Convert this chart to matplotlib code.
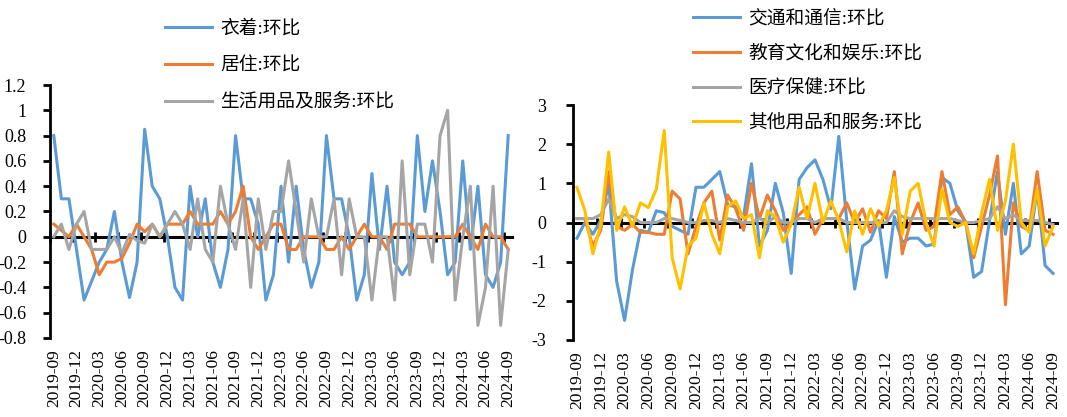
import numpy as np
import matplotlib
matplotlib.use('Agg')
import matplotlib.pyplot as plt

plt.rcParams['font.family'] = ['Liberation Serif', 'Noto Sans CJK SC']

# monthly, 2019-09 .. 2024-09
tick_labels = ['2019-09', '2019-12', '2020-03', '2020-06', '2020-09', '2020-12',
               '2021-03', '2021-06', '2021-09', '2021-12', '2022-03', '2022-06',
               '2022-09', '2022-12', '2023-03', '2023-06', '2023-09', '2023-12',
               '2024-03', '2024-06', '2024-09']

# left panel
clothing = [0.8, 0.3, 0.3, -0.1, -0.5, -0.35, -0.2, -0.1, 0.2, -0.2, -0.48, -0.2,
            0.85, 0.4, 0.3, 0.0, -0.4, -0.5, 0.4, 0.0, 0.3, -0.2, -0.4, -0.1,
            0.8, 0.3, 0.3, 0.1, -0.5, -0.3, 0.4, -0.2, 0.4, -0.1, -0.4, -0.2,
            0.8, 0.3, 0.3, 0.0, -0.5, -0.3, 0.5, -0.1, 0.4, -0.2, -0.3, -0.2,
            0.8, 0.2, 0.6, 0.2, -0.3, -0.2, 0.6, -0.1, 0.4, -0.3, -0.4, -0.2, 0.8]
housing = [0.1, 0.05, 0.0, 0.1, 0.0, -0.1, -0.3, -0.2, -0.2, -0.17, -0.05, 0.1,
           0.04, 0.1, 0.0, 0.1, 0.1, 0.1, 0.2, 0.1, 0.1, 0.1, 0.2, 0.1,
           0.2, 0.4, 0.0, -0.1, 0.0, 0.1, 0.1, -0.1, -0.1, 0.0, 0.0, 0.0,
           -0.1, -0.1, 0.0, -0.1, 0.0, 0.1, 0.0, 0.0, -0.1, 0.1, 0.1, 0.1,
           0.0, 0.0, 0.0, 0.0, 0.0, 0.0, 0.1, 0.0, -0.1, 0.1, 0.0, 0.0, -0.1]
household = [0.0, 0.1, -0.1, 0.1, 0.2, -0.1, -0.1, -0.1, 0.0, -0.13, 0.02, -0.03,
             -0.05, 0.1, 0.0, 0.1, 0.2, 0.1, -0.1, 0.3, -0.1, -0.2, 0.4, 0.1,
             -0.1, 0.3, -0.4, 0.3, -0.1, 0.2, 0.2, 0.6, 0.2, -0.2, 0.3, 0.0,
             0.0, 0.3, -0.3, 0.3, 0.0, 0.0, -0.5, 0.0, 0.0, -0.5, 0.6, -0.3,
             0.1, 0.1, -0.2, 0.8, 1.0, -0.5, 0.0, 0.4, -0.7, -0.4, 0.4, -0.7, -0.1]

# right panel
transport = [-0.4, 0.0, -0.3, 0.05, 1.0, -1.5, -2.5, -1.2, -0.2, -0.25, 0.3, 0.25,
             -0.1, -0.2, -0.3, 0.9, 0.9, 1.1, 1.3, 0.45, 0.4, 0.15, 1.5, -0.6,
             -0.2, 1.0, 0.25, -1.3, 1.1, 1.4, 1.6, 1.1, 0.35, 2.2, 0.05, -1.7,
             -0.6, -0.45, 0.05, -1.4, 0.15, -0.5, -0.4, -0.4, -0.6, -0.55, 1.15, 1.0,
             0.3, 0.0, -1.4, -1.25, 0.05, 1.3, -0.3, 1.0, -0.8, -0.6, 0.85, -1.1, -1.3]
education = [0.1, 0.1, -0.6, -0.2, 1.3, -0.1, -0.2, -0.05, -0.25, -0.25, -0.3, -0.3,
             0.8, 0.6, -0.8, -0.1, 0.5, 0.8, -0.45, 0.7, 0.35, -0.2, 1.0, 0.1,
             0.7, 0.3, -0.2, 0.0, 0.2, 0.4, -0.3, 0.1, 0.1, 0.1, 0.5, 0.0,
             0.35, -0.25, 0.3, 0.1, 1.3, -0.8, 0.0, 0.5, -0.2, -0.1, 1.3, 0.2,
             0.4, 0.0, -0.9, -0.1, 0.7, 1.7, -2.1, 0.5, -0.1, -0.2, 1.3, -0.2, -0.3]
health = [0.1, 0.1, 0.1, 0.2, 0.6, 0.1, 0.2, 0.15, 0.0, 0.0, 0.0, 0.1,
          0.1, 0.05, 0.0, 0.0, 0.05, 0.05, 0.0, 0.1, 0.05, 0.0, 0.0, 0.1,
          0.0, 0.15, 0.0, 0.0, 0.1, 0.1, 0.0, 0.1, 0.1, 0.1, 0.0, 0.0,
          0.0, 0.0, 0.0, 0.0, 0.3, 0.15, 0.1, 0.1, 0.1, 0.1, 0.1, 0.1,
          0.05, 0.0, 0.0, 0.05, 0.1, 0.4, 0.1, 0.2, 0.05, 0.05, 0.05, 0.0, -0.05]
others = [0.9, 0.3, -0.8, -0.05, 1.8, -0.2, 0.4, -0.1, 0.5, 0.38, 0.85, 2.35,
          -0.9, -1.7, -0.6, -0.4, 0.5, -0.3, -0.8, 0.4, 0.55, 0.1, 0.2, -0.9,
          0.3, 0.15, -0.5, -0.05, 0.9, 0.1, 1.0, 0.0, 0.55, 0.05, -0.75, 0.3,
          -0.3, 0.35, -0.1, 0.3, 1.15, -0.3, 0.8, 1.0, 0.0, -0.6, 0.85, 0.0,
          -0.1, 0.0, -0.8, 0.25, 1.1, -0.2, 0.55, 2.0, 0.0, -0.25, 0.85, -0.6, -0.1]

blue, orange, gray, yellow = '#5B9BD5', '#ED7D31', '#A5A5A5', '#FFC000'

W, H = 1067, 417
fig = plt.figure(figsize=(W / 100, H / 100), dpi=100)
ax1 = fig.add_axes([50 / W, 1 - 338 / H, 462 / W, 253 / H])
ax2 = fig.add_axes([573 / W, 1 - 340 / H, 484 / W, 235 / H])

x = np.arange(len(clothing))
label_pos = np.arange(0, len(x), 3)


def style(ax, ylim, yticks, fmt, ypad):
    ax.set_xlim(-0.5, len(x) - 0.5)
    ax.set_ylim(*ylim)
    ax.set_yticks(yticks)
    ax.set_yticklabels([fmt(v) for v in yticks])
    for s in ['top', 'right']:
        ax.spines[s].set_visible(False)
    ax.spines['left'].set_linewidth(2)
    ax.spines['bottom'].set_position(('data', 0))
    ax.spines['bottom'].set_linewidth(2.2)
    ax.spines['bottom'].set_zorder(2)
    ax.set_xticks(np.arange(-0.5, len(x), 3))
    ax.tick_params(axis='x', direction='inout', length=7, width=2, labelbottom=False)
    ax.tick_params(axis='y', direction='out', length=5, width=2, pad=ypad, labelsize=13)
    sec = ax.secondary_xaxis(0)
    sec.set_xticks(label_pos)
    sec.set_xticklabels(tick_labels, rotation=90)
    sec.tick_params(length=0, pad=8, labelsize=12.5)
    sec.spines['bottom'].set_visible(False)


def fmt_left(v):
    v = round(v, 1)
    if v == 0:
        return '0'
    return '%g' % v


style(ax1, (-0.8, 1.2), np.round(np.arange(-0.8, 1.21, 0.2), 1), fmt_left, 12)
style(ax2, (-3, 3), np.arange(-3, 4, 1), lambda v: '%d' % v, 14)

l1, = ax1.plot(x, clothing, color=blue, lw=2.2, zorder=3)
l2, = ax1.plot(x, housing, color=orange, lw=2.2, zorder=3)
l3, = ax1.plot(x, household, color=gray, lw=2.2, zorder=3)

r1, = ax2.plot(x, transport, color=blue, lw=2.2, zorder=3)
r2, = ax2.plot(x, education, color=orange, lw=2.2, zorder=3)
r3, = ax2.plot(x, health, color=gray, lw=2.2, zorder=3)
r4, = ax2.plot(x, others, color=yellow, lw=2.2, zorder=3)

leg_kw = dict(loc='upper left', frameon=False, borderpad=0, borderaxespad=0,
              handlelength=2.5, handletextpad=0.45, prop={'size': 13.5})
fig.legend([l1, l2, l3], ['衣着:环比', '居住:环比', '生活用品及服务:环比'],
           bbox_to_anchor=(165 / W, 1 - 20 / H), labelspacing=1.06, **leg_kw)
fig.legend([r1, r2, r3, r4], ['交通和通信:环比', '教育文化和娱乐:环比', '医疗保健:环比', '其他用品和服务:环比'],
           bbox_to_anchor=(693 / W, 1 - 10 / H), labelspacing=0.92, **leg_kw)

fig.savefig('out.png', dpi=100)
